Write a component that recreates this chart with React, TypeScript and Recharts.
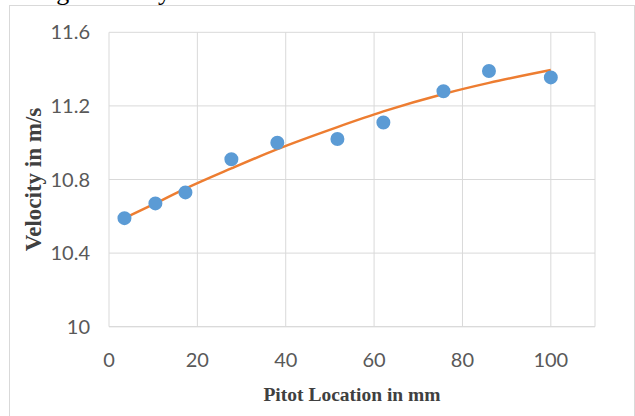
import React from "react";
import {
  ComposedChart,
  Scatter,
  Line,
  XAxis,
  YAxis,
  ZAxis,
  CartesianGrid,
  Label,
} from "recharts";

// measured pitot positions (mm) and velocities (m/s)
const location = [3.5, 10.5, 17.3, 27.7, 38.1, 51.7, 62.1, 75.7, 86, 100];
const velocity = [10.59, 10.67, 10.73, 10.91, 11.0, 11.02, 11.11, 11.28, 11.39, 11.355];
// trendline at the same positions
const trend = [10.59, 10.67, 10.75, 10.86, 10.965, 11.085, 11.17, 11.265, 11.325, 11.395];

const xTicks = [0, 20, 40, 60, 80, 100];
const yTicks = [10, 10.4, 10.8, 11.2, 11.6];

const points = location.map((x, i) => ({ x, v: velocity[i] }));
const trendPoints = location.map((x, i) => ({ x, t: trend[i] }));

const tickStyle = { fill: "#595959", fontSize: 20, fontFamily: "Lato, sans-serif" };
const titleStyle = {
  fill: "#404040",
  fontFamily: "'Liberation Serif', 'Times New Roman', serif",
  fontWeight: 700,
};

export default function App() {
  return (
    <div
      style={{
        position: "absolute",
        top: 0,
        left: 0,
        width: 635,
        height: 416,
        overflow: "hidden",
        background: "#fff",
      }}
    >
      {/* caption line of the page above, cropped like in the source */}
      <div
        style={{
          position: "absolute",
          left: 0,
          top: -21,
          fontFamily: "'Liberation Serif', serif",
          fontSize: 26,
          lineHeight: 1,
          whiteSpace: "nowrap",
          color: "#000",
        }}
      >
        average velocity ascertained in the Pitot test.
      </div>
      <div
        style={{
          position: "absolute",
          left: 9,
          top: 5,
          width: 624,
          height: 440,
          border: "1px solid #d9d9d9",
        }}
      />
      <div style={{ position: "absolute", left: 0, top: 0 }}>
        <ComposedChart
          width={635}
          height={416}
          margin={{ top: 32.3, right: 40, bottom: 9.3, left: 9 }}
        >
          <CartesianGrid stroke="#d9d9d9" strokeWidth={1} />
          <XAxis
            type="number"
            dataKey="x"
            domain={[0, 110]}
            ticks={xTicks}
            height={80}
            axisLine={{ stroke: "#d9d9d9" }}
            tickLine={false}
            tickSize={0}
            tickMargin={26}
            tick={tickStyle}
          >
            <Label
              value="Pitot Location in mm"
              position="insideBottom"
              offset={6}
              style={{ ...titleStyle, fontSize: 19.5 }}
            />
          </XAxis>
          <YAxis
            type="number"
            domain={[10, 11.6]}
            ticks={yTicks}
            width={100}
            axisLine={false}
            tickLine={false}
            tickSize={0}
            tickMargin={19}
            tick={tickStyle}
            tickFormatter={(v: number) => (v === 10 ? "10" : v.toFixed(1))}
          >
            <Label
              value="Velocity in m/s"
              angle={-90}
              position="insideLeft"
              offset={24}
              style={{ ...titleStyle, fontSize: 23, textAnchor: "middle" }}
            />
          </YAxis>
          <ZAxis range={[154, 154]} />
          <Scatter
            data={points}
            dataKey="v"
            fill="#5B9BD5"
            isAnimationActive={false}
          />
          <Line
            data={trendPoints}
            dataKey="t"
            type="monotone"
            stroke="#ED7D31"
            strokeWidth={2.5}
            dot={false}
            activeDot={false}
            isAnimationActive={false}
          />
        </ComposedChart>
      </div>
    </div>
  );
}
